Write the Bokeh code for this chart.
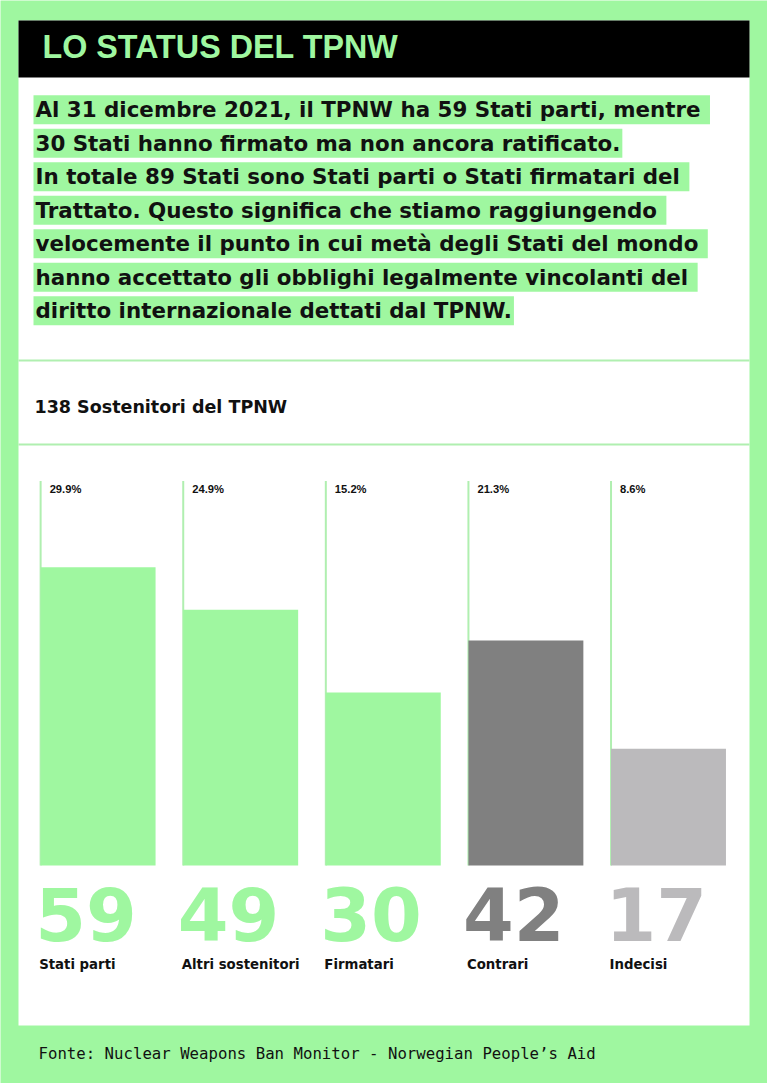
from bokeh.plotting import figure
from bokeh.models import Range1d, Label, ColumnDataSource
from bokeh.core.properties import value
from bokeh.embed import file_html
from bokeh.resources import INLINE

# ---------------- data ----------------
CATEGORIES = ["Stati parti", "Altri sostenitori", "Firmatari", "Contrari", "Indecisi"]
COUNTS = [59, 49, 30, 42, 17]
PERCENTS = [29.9, 24.9, 15.2, 21.3, 8.6]
TITLE = "LO STATUS DEL TPNW"
SUBTITLE = "138 Sostenitori del TPNW"
PARAGRAPH = [
    "Al 31 dicembre 2021, il TPNW ha 59 Stati parti, mentre ",
    "30 Stati hanno firmato ma non ancora ratificato.",
    "In totale 89 Stati sono Stati parti o Stati firmatari del ",
    "Trattato. Questo significa che stiamo raggiungendo ",
    "velocemente il punto in cui metà degli Stati del mondo ",
    "hanno accettato gli obblighi legalmente vincolanti del ",
    "diritto internazionale dettati dal TPNW.",
]
FOOTER = "Fonte: Nuclear Weapons Ban Monitor - Norwegian People\u2019s Aid"

# ---------------- style / layout ----------------
GREEN = "#9ff7a0"
GUIDE = "#b0efb0"
DARK = "#808080"
LIGHT = "#bbbabc"
INK = "#111111"
COLORS = [GREEN, GREEN, GREEN, DARK, LIGHT]

W, H = 767, 1083
XS = 142.6          # px per category
X_START = -0.6844
YS = 8.526          # px per percent point
Y_START = -30.66
BAR_W = 0.806
BASE = -5.09
GUIDE_TOP = 40
BL = 0.378          # baseline correction (fraction of font size)


def px(xp):
    return X_START + xp / XS


def py(yp):
    return Y_START + (H - yp) / YS


def pyb(baseline, size):
    return py(baseline - BL * size)


p = figure(width=W, height=H,
           x_range=Range1d(X_START, X_START + W / XS),
           y_range=Range1d(Y_START, Y_START + H / YS),
           output_backend="svg", toolbar_location=None,
           x_axis_location=None, y_axis_location=None,
           min_border=0, background_fill_color=GREEN,
           border_fill_color=GREEN, outline_line_color=None)
p.grid.visible = False

# panel + title bar
p.quad(left=[px(18)], right=[px(749)], top=[py(20)], bottom=[py(1025)],
       fill_color="white", line_color=None)
p.quad(left=[px(18)], right=[px(749)], top=[py(20)], bottom=[py(77)],
       fill_color="black", line_color=None)
p.text(x=[px(42)], y=[pyb(58.3, 32.3)], text=[TITLE],
       text_font=value("Liberation Sans"), text_font_style="bold",
       text_font_size="32.3px", text_color=GREEN, text_baseline="alphabetic")

# paragraph with highlight
for i, line in enumerate(PARAGRAPH):
    p.add_layout(Label(x=px(33), y=pyb(117.3 + i * 33.5, 21.4), text=line,
                       text_font="DejaVu Sans", text_font_style="bold",
                       text_font_size="21.4px", text_color=INK,
                       text_baseline="alphabetic",
                       background_fill_color=GREEN, padding=2))

# dividers
p.segment(x0=[px(18)] * 2, x1=[px(749)] * 2, y0=[py(360), py(444)],
          y1=[py(360), py(444)], line_color=GUIDE, line_width=2)

p.text(x=[px(34)], y=[pyb(413.3, 17.5)], text=[SUBTITLE],
       text_font=value("DejaVu Sans"), text_font_style="bold",
       text_font_size="17.5px", text_color=INK, text_baseline="alphabetic")

# bars
idx = list(range(len(CATEGORIES)))
left = [i - BAR_W / 2 for i in idx]
src = ColumnDataSource(dict(
    x=idx, left=left, pct=PERCENTS, color=COLORS,
    pct_label=[f"{v}%" for v in PERCENTS],
    count_label=[str(c) for c in COUNTS], cat=CATEGORIES,
    base=[BASE] * len(idx), top_guide=[GUIDE_TOP] * len(idx),
    y_pct=[pyb(492.7, 11.2)] * len(idx), y_num=[pyb(941.5, 73)] * len(idx),
    y_cat=[pyb(969, 13.3)] * len(idx),
))

p.segment(x0="left", x1="left", y0="base", y1="top_guide", source=src,
          line_color=GUIDE, line_width=2)
p.vbar(x="x", width=BAR_W, bottom="base", top="pct", fill_color="color",
       line_color=None, source=src)

p.text(x="left", y="y_pct", text="pct_label", source=src, x_offset=9,
       text_font=value("Liberation Sans"), text_font_style="bold",
       text_font_size="11.2px", text_color=INK, text_baseline="alphabetic")
p.text(x="left", y="y_num", text="count_label", source=src, x_offset=-5.5,
       text_font=value("DejaVu Sans"), text_font_style="bold",
       text_font_size="73px", text_color="color", text_baseline="alphabetic")
p.text(x="left", y="y_cat", text="cat", source=src, x_offset=-1.5,
       text_font=value("DejaVu Sans"), text_font_style="bold",
       text_font_size="13.3px", text_color=INK, text_baseline="alphabetic")

# footer
p.text(x=[px(38)], y=[pyb(1059, 15.7)], text=[FOOTER],
       text_font=value("DejaVu Sans Mono"), text_font_size="15.7px",
       text_color=INK, text_baseline="alphabetic")

open("out.html", "w").write(file_html(p, INLINE))
